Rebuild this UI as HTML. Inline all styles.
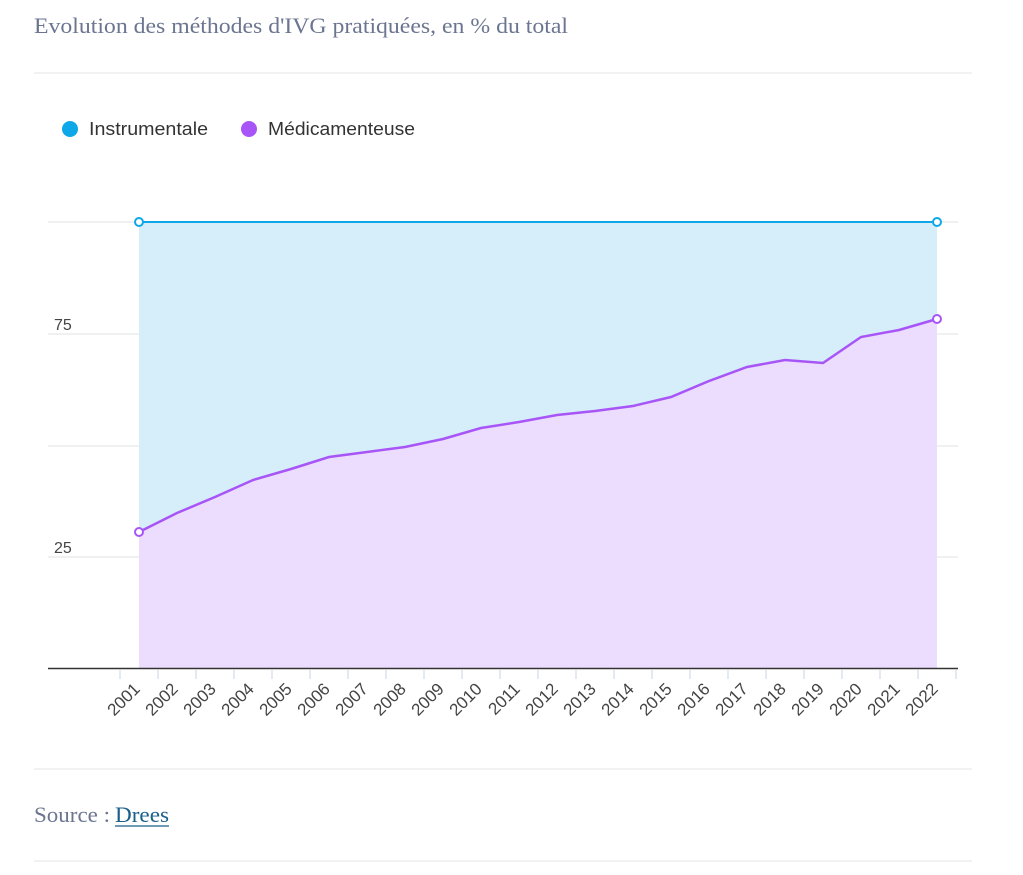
<!DOCTYPE html>
<html><head><meta charset="utf-8"><style>
body{margin:0;background:#fff;width:1023px;height:870px;overflow:hidden;font-family:"Liberation Sans",sans-serif}
</style></head><body>
<svg width="1023" height="870" xmlns="http://www.w3.org/2000/svg">
<text x="34" y="33" font-family="Liberation Serif, serif" font-size="22" fill="#6b7590" textLength="534" lengthAdjust="spacingAndGlyphs">Evolution des méthodes d'IVG pratiquées, en % du total</text>
<line x1="34" y1="73" x2="972" y2="73" stroke="#eee" stroke-width="1.5"/>
<circle cx="70" cy="129" r="8" fill="#0ea8e8"/>
<text x="89" y="135" font-size="18" fill="#333" textLength="119" lengthAdjust="spacingAndGlyphs">Instrumentale</text>
<circle cx="249" cy="129" r="8" fill="#a855f7"/>
<text x="268" y="135" font-size="18" fill="#333" textLength="147" lengthAdjust="spacingAndGlyphs">Médicamenteuse</text>
<g stroke="#dde0e6" stroke-width="1">
<line x1="48" y1="222" x2="958" y2="222"/><line x1="48" y1="334" x2="958" y2="334"/><line x1="48" y1="446" x2="958" y2="446"/><line x1="48" y1="557" x2="958" y2="557"/>
</g>
<text x="54" y="330" font-size="16" fill="#444">75</text>
<text x="54" y="553" font-size="16" fill="#444">25</text>
<polygon points="139,222 937,222 937,668 139,668" fill="#d6eefa"/>
<polygon points="139,668 139,532 177,513 215,497 253,480 291,469 329,457 367,452 405,447 443,439 481,428 519,422 557,415 595,411 633,406 671,397 709,381 747,367 785,360 823,363 861,337 899,330 937,319 937,668" fill="#ecdcfd"/>
<line x1="139" y1="222" x2="937" y2="222" stroke="#0ea8e8" stroke-width="2"/>
<polyline points="139,532 177,513 215,497 253,480 291,469 329,457 367,452 405,447 443,439 481,428 519,422 557,415 595,411 633,406 671,397 709,381 747,367 785,360 823,363 861,337 899,330 937,319" fill="none" stroke="#a855f7" stroke-width="2.5"/>
<circle cx="139" cy="222" r="4" fill="#fff" stroke="#0ea8e8" stroke-width="2"/>
<circle cx="937" cy="222" r="4" fill="#fff" stroke="#0ea8e8" stroke-width="2"/>
<circle cx="139" cy="532" r="4" fill="#fff" stroke="#a855f7" stroke-width="2"/>
<circle cx="937" cy="319" r="4" fill="#fff" stroke="#a855f7" stroke-width="2"/>
<line x1="48" y1="668.5" x2="958" y2="668.5" stroke="#333" stroke-width="1.5"/>
<g stroke="#c8d4e6" stroke-width="1">
<line x1="120" y1="670" x2="120" y2="679"/><line x1="158" y1="670" x2="158" y2="679"/><line x1="196" y1="670" x2="196" y2="679"/><line x1="234" y1="670" x2="234" y2="679"/><line x1="272" y1="670" x2="272" y2="679"/><line x1="310" y1="670" x2="310" y2="679"/><line x1="348" y1="670" x2="348" y2="679"/><line x1="386" y1="670" x2="386" y2="679"/><line x1="424" y1="670" x2="424" y2="679"/><line x1="462" y1="670" x2="462" y2="679"/><line x1="500" y1="670" x2="500" y2="679"/><line x1="538" y1="670" x2="538" y2="679"/><line x1="576" y1="670" x2="576" y2="679"/><line x1="614" y1="670" x2="614" y2="679"/><line x1="652" y1="670" x2="652" y2="679"/><line x1="690" y1="670" x2="690" y2="679"/><line x1="728" y1="670" x2="728" y2="679"/><line x1="766" y1="670" x2="766" y2="679"/><line x1="804" y1="670" x2="804" y2="679"/><line x1="842" y1="670" x2="842" y2="679"/><line x1="880" y1="670" x2="880" y2="679"/><line x1="918" y1="670" x2="918" y2="679"/><line x1="956" y1="670" x2="956" y2="679"/>
</g>
<g font-size="17" fill="#444" text-anchor="end">
<text transform="translate(141,690) rotate(-45)">2001</text>
<text transform="translate(179,690) rotate(-45)">2002</text>
<text transform="translate(217,690) rotate(-45)">2003</text>
<text transform="translate(255,690) rotate(-45)">2004</text>
<text transform="translate(293,690) rotate(-45)">2005</text>
<text transform="translate(331,690) rotate(-45)">2006</text>
<text transform="translate(369,690) rotate(-45)">2007</text>
<text transform="translate(407,690) rotate(-45)">2008</text>
<text transform="translate(445,690) rotate(-45)">2009</text>
<text transform="translate(483,690) rotate(-45)">2010</text>
<text transform="translate(521,690) rotate(-45)">2011</text>
<text transform="translate(559,690) rotate(-45)">2012</text>
<text transform="translate(597,690) rotate(-45)">2013</text>
<text transform="translate(635,690) rotate(-45)">2014</text>
<text transform="translate(673,690) rotate(-45)">2015</text>
<text transform="translate(711,690) rotate(-45)">2016</text>
<text transform="translate(749,690) rotate(-45)">2017</text>
<text transform="translate(787,690) rotate(-45)">2018</text>
<text transform="translate(825,690) rotate(-45)">2019</text>
<text transform="translate(863,690) rotate(-45)">2020</text>
<text transform="translate(901,690) rotate(-45)">2021</text>
<text transform="translate(939,690) rotate(-45)">2022</text>
</g>
<line x1="34" y1="769" x2="972" y2="769" stroke="#eee" stroke-width="1.5"/>
<text x="34" y="822" font-family="Liberation Serif, serif" font-size="22" fill="#6b7590" textLength="76" lengthAdjust="spacingAndGlyphs">Source :</text>
<text x="115" y="822" font-family="Liberation Serif, serif" font-size="22" fill="#1a5f8a" textLength="54" lengthAdjust="spacingAndGlyphs">Drees</text>
<line x1="115" y1="826" x2="169" y2="826" stroke="#1a5f8a" stroke-width="1.2"/>
<line x1="34" y1="861" x2="972" y2="861" stroke="#eee" stroke-width="1.5"/>
</svg>
</body></html>
